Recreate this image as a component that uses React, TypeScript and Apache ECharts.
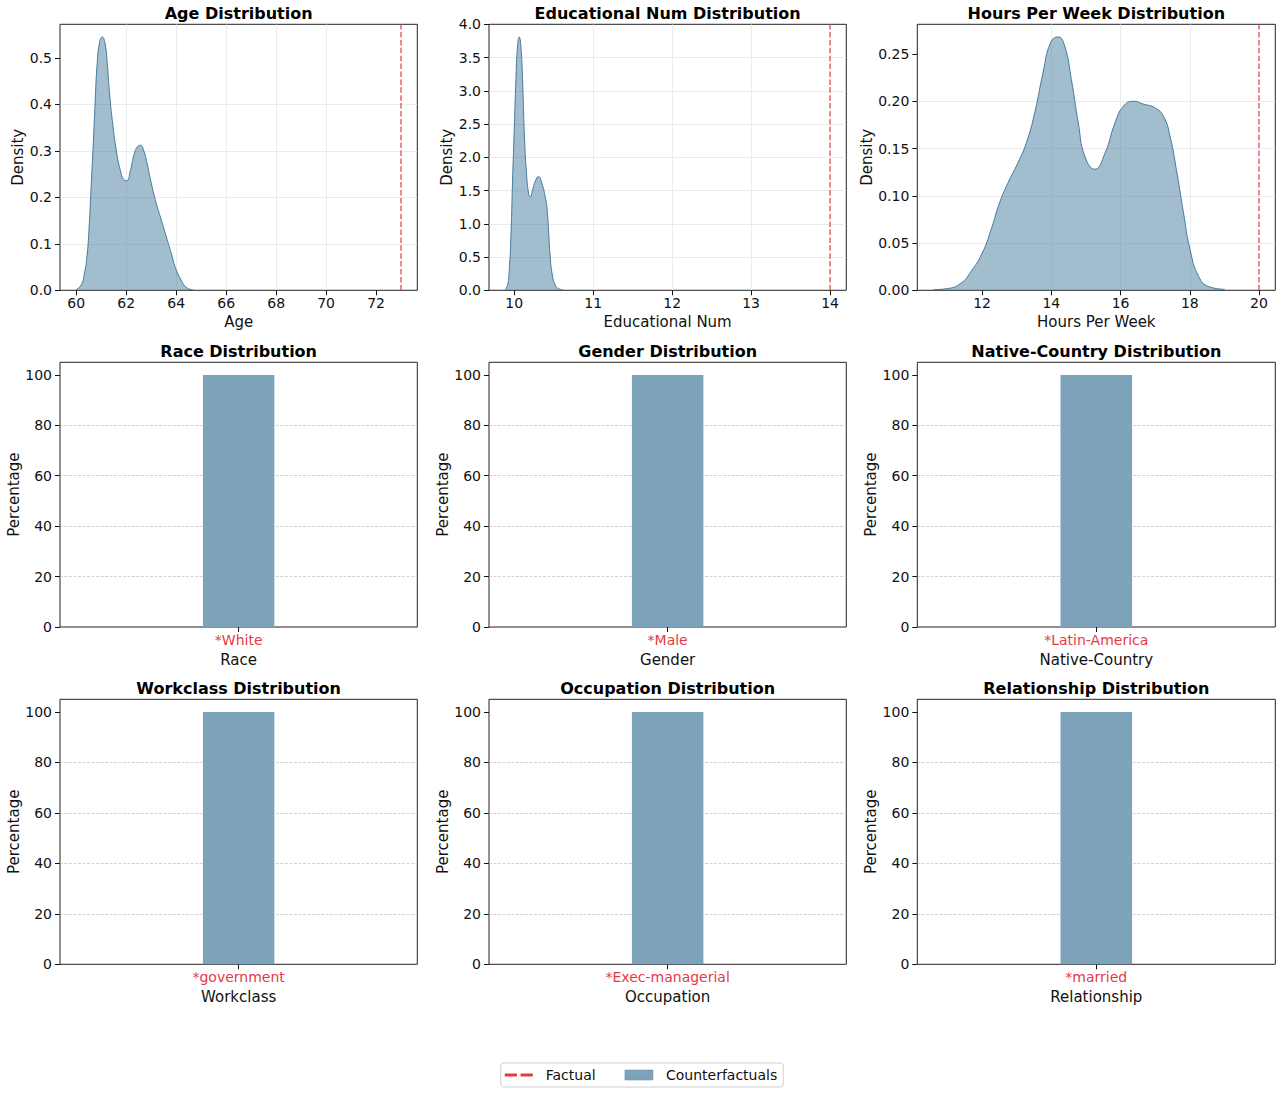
import React, { useEffect, useRef } from "react";
import * as echarts from "echarts";

const FONT = "DejaVu Sans";
const RED = "#e63946";
const BLUE = "#457b9d";
const BAR = "#7da3ba";
const INK = "#111111";

// ---- KDE data ----
const ageX = [60.0, 60.2, 60.33, 60.43, 60.51, 60.59, 60.67, 60.75, 60.83, 60.93, 61.04, 61.15, 61.24, 61.33, 61.47, 61.6, 61.76, 61.91, 62.03, 62.16, 62.33, 62.47, 62.57, 62.69, 62.83, 63.0, 63.2, 63.4, 63.6, 63.8, 64.0, 64.2, 64.4, 64.69];
const ageY = [0.0014, 0.0115, 0.037, 0.073, 0.13, 0.216, 0.302, 0.396, 0.482, 0.532, 0.545, 0.532, 0.489, 0.425, 0.353, 0.302, 0.259, 0.238, 0.236, 0.256, 0.295, 0.31, 0.312, 0.302, 0.274, 0.231, 0.1875, 0.152, 0.116, 0.08, 0.044, 0.022, 0.0065, 0.0007];
const ageFactual = 73;

const eduX = [9.886, 9.916, 9.937, 9.958, 9.979, 10.0, 10.021, 10.042, 10.063, 10.084, 10.105, 10.126, 10.152, 10.181, 10.202, 10.232, 10.266, 10.308, 10.35, 10.392, 10.413, 10.434, 10.455, 10.485, 10.518, 10.56, 10.624];
const eduY = [0.01, 0.08, 0.307, 0.81, 1.66, 2.42, 3.17, 3.67, 3.81, 3.67, 3.17, 2.42, 1.81, 1.46, 1.4, 1.51, 1.64, 1.71, 1.61, 1.41, 1.26, 0.91, 0.51, 0.21, 0.08, 0.025, 0.005];
const eduFactual = 14;

const hoursX = [10.6, 11.0, 11.39, 11.68, 12.0, 12.26, 12.5, 12.74, 13.03, 13.28, 13.52, 13.76, 13.98, 14.2, 14.39, 14.58, 14.78, 14.97, 15.26, 15.55, 15.84, 16.08, 16.37, 16.66, 17.0, 17.24, 17.43, 17.63, 17.82, 18.01, 18.26, 18.55, 19.01];
const hoursY = [0.0007, 0.0018, 0.0074, 0.0198, 0.039, 0.064, 0.092, 0.113, 0.1345, 0.156, 0.1875, 0.23, 0.262, 0.268, 0.258, 0.223, 0.177, 0.1416, 0.128, 0.145, 0.177, 0.1946, 0.2, 0.197, 0.193, 0.184, 0.163, 0.124, 0.0816, 0.0427, 0.0145, 0.0039, 0.001];
const hoursFactual = 20;

// ---- tick labels ----
const ageXTicks = [60, 62, 64, 66, 68, 70, 72];
const ageYTicks = [0, 0.1, 0.2, 0.3, 0.4, 0.5];
const eduXTicks = [10, 11, 12, 13, 14];
const eduYTicks = [0, 0.5, 1.0, 1.5, 2.0, 2.5, 3.0, 3.5, 4.0];
const hoursXTicks = [12, 14, 16, 18, 20];
const hoursYTicks = [0, 0.05, 0.1, 0.15, 0.2, 0.25];
const pctTicks = [0, 20, 40, 60, 80, 100];

// ---- categorical data ----
const raceCats = ["White"];
const raceVals = [100];
const raceFactual = "White";
const genderCats = ["Male"];
const genderVals = [100];
const genderFactual = "Male";
const countryCats = ["Latin-America"];
const countryVals = [100];
const countryFactual = "Latin-America";
const workclassCats = ["government"];
const workclassVals = [100];
const workclassFactual = "government";
const occupationCats = ["Exec-managerial"];
const occupationVals = [100];
const occupationFactual = "Exec-managerial";
const relationshipCats = ["married"];
const relationshipVals = [100];
const relationshipFactual = "married";

// ---- layout ----
const COL_LEFT = [60, 489, 917.3];
const COL_W = [357.3, 357.3, 358];
const ROW_TOP = [24.3, 362.3, 699.3];
const ROW_H = [266, 264.7, 265];
const TITLE_Y = [13.5, 351.8, 688.8];

type Kde = {
  title: string; xName: string; xs: number[]; ys: number[]; factual: number;
  xTicks: number[]; yTicks: number[]; xStep: number; yStep: number; yDec: number; yNameGap: number;
};
type Cat = { title: string; xName: string; cats: string[]; vals: number[]; factual: string };

const kdePanels: Kde[] = [
  { title: "Age Distribution", xName: "Age", xs: ageX, ys: ageY, factual: ageFactual, xTicks: ageXTicks, yTicks: ageYTicks, xStep: 2, yStep: 0.1, yDec: 1, yNameGap: 31 },
  { title: "Educational Num Distribution", xName: "Educational Num", xs: eduX, ys: eduY, factual: eduFactual, xTicks: eduXTicks, yTicks: eduYTicks, xStep: 1, yStep: 0.5, yDec: 1, yNameGap: 32 },
  { title: "Hours Per Week Distribution", xName: "Hours Per Week", xs: hoursX, ys: hoursY, factual: hoursFactual, xTicks: hoursXTicks, yTicks: hoursYTicks, xStep: 2, yStep: 0.05, yDec: 2, yNameGap: 42 },
];
const catPanels: Cat[] = [
  { title: "Race Distribution", xName: "Race", cats: raceCats, vals: raceVals, factual: raceFactual },
  { title: "Gender Distribution", xName: "Gender", cats: genderCats, vals: genderVals, factual: genderFactual },
  { title: "Native-Country Distribution", xName: "Native-Country", cats: countryCats, vals: countryVals, factual: countryFactual },
  { title: "Workclass Distribution", xName: "Workclass", cats: workclassCats, vals: workclassVals, factual: workclassFactual },
  { title: "Occupation Distribution", xName: "Occupation", cats: occupationCats, vals: occupationVals, factual: occupationFactual },
  { title: "Relationship Distribution", xName: "Relationship", cats: relationshipCats, vals: relationshipVals, factual: relationshipFactual },
];

function buildOption() {
  const grids: any[] = [];
  const xAxes: any[] = [];
  const yAxes: any[] = [];
  const series: any[] = [];
  const graphics: any[] = [];

  const tickStyle = { show: true, length: 5, lineStyle: { color: INK, width: 1 } };
  const labelBase = { fontSize: 14, fontFamily: FONT, color: INK };
  const nameStyle = { fontSize: 15, fontFamily: FONT, color: INK };

  const addGrid = (idx: number, title: string) => {
    const r = Math.floor(idx / 3);
    const c = idx % 3;
    grids.push({
      left: COL_LEFT[c], top: ROW_TOP[r], width: COL_W[c], height: ROW_H[r],
      show: true, borderColor: "#222222", borderWidth: 1, backgroundColor: "transparent",
      containLabel: false, outerBoundsMode: "none",
    });
    graphics.push({
      type: "text", x: COL_LEFT[c] + COL_W[c] / 2, y: TITLE_Y[r], silent: true,
      style: { text: title, fontSize: 16, fontWeight: "bold", fontFamily: FONT, fill: "#000", align: "center", verticalAlign: "middle" },
    });
  };

  kdePanels.forEach((p, i) => {
    addGrid(i, p.title);
    const lo = Math.min(Math.min(...p.xs), p.factual);
    const hi = Math.max(Math.max(...p.xs), p.factual);
    const pad = (hi - lo) * 0.05;
    const yMax = Math.max(...p.ys) * 1.05;
    xAxes.push({
      type: "value", gridIndex: i, min: lo - pad, max: hi + pad,
      minInterval: p.xStep, maxInterval: p.xStep,
      axisLine: { show: false },
      axisTick: { ...tickStyle, customValues: p.xTicks },
      axisLabel: { ...labelBase, margin: 6, customValues: p.xTicks, formatter: (v: number) => String(Math.round(v)) },
      splitLine: { show: true, showMinLine: false, showMaxLine: false, lineStyle: { color: "#e6e6e6", width: 0.8 } },
      name: p.xName, nameLocation: "middle", nameGap: 24, nameTextStyle: nameStyle,
    });
    yAxes.push({
      type: "value", gridIndex: i, min: 0, max: yMax,
      minInterval: p.yStep, maxInterval: p.yStep,
      axisLine: { show: false },
      axisTick: { ...tickStyle, customValues: p.yTicks },
      axisLabel: { ...labelBase, margin: 8, customValues: p.yTicks, formatter: (v: number) => v.toFixed(p.yDec) },
      splitLine: { show: true, showMinLine: false, showMaxLine: false, lineStyle: { color: "#e6e6e6", width: 0.8 } },
      name: "Density", nameLocation: "middle", nameGap: p.yNameGap, nameTextStyle: nameStyle,
    });
    series.push({
      type: "line", name: "Density", xAxisIndex: i, yAxisIndex: i, silent: true,
      data: p.xs.map((x, k) => [x, p.ys[k]]),
      smooth: 0.5, symbol: "none", showSymbol: false,
      lineStyle: { color: BLUE, width: 1 },
      areaStyle: { color: BLUE, opacity: 0.5 },
    });
    series.push({
      type: "line", name: "Factual", xAxisIndex: i, yAxisIndex: i, silent: true,
      data: [], symbol: "none", showSymbol: false,
      lineStyle: { color: RED, type: "dashed", width: 1.5 },
      itemStyle: { color: RED },
      markLine: {
        silent: true, symbol: ["none", "none"], label: { show: false },
        lineStyle: { color: RED, opacity: 0.8, type: [5.5, 2.4], width: 1.5 },
        data: [{ xAxis: p.factual }],
      },
    });
  });

  catPanels.forEach((p, j) => {
    const i = j + 3;
    addGrid(i, p.title);
    const yMax = Math.max(...p.vals) * 1.05;
    xAxes.push({
      type: "category", gridIndex: i, data: p.cats,
      axisLine: { show: false },
      axisTick: { ...tickStyle, alignWithLabel: true },
      axisLabel: {
        ...labelBase, margin: 6,
        formatter: (v: string) => (v === p.factual ? "*" + v : v),
        color: (v: string) => (v === p.factual ? RED : INK),
      },
      splitLine: { show: false },
      name: p.xName, nameLocation: "middle", nameGap: 25.5, nameTextStyle: nameStyle,
    });
    yAxes.push({
      type: "value", gridIndex: i, min: 0, max: yMax,
      minInterval: 20, maxInterval: 20,
      axisLine: { show: false },
      axisTick: { ...tickStyle, customValues: pctTicks },
      axisLabel: { ...labelBase, margin: 8, customValues: pctTicks, formatter: (v: number) => String(Math.round(v)) },
      splitLine: { show: true, showMinLine: false, showMaxLine: false, lineStyle: { color: "#c8c8c8", type: [3, 1.5], width: 0.8 } },
      name: "Percentage", nameLocation: "middle", nameGap: 36.5, nameTextStyle: nameStyle,
    });
    series.push({
      type: "bar", name: "Counterfactuals", xAxisIndex: i, yAxisIndex: i, silent: true,
      data: p.vals, barWidth: "20%", itemStyle: { color: BAR },
    });
  });

  return {
    animation: false,
    backgroundColor: "#ffffff",
    textStyle: { fontFamily: FONT },
    grid: grids,
    xAxis: xAxes,
    yAxis: yAxes,
    series,
    graphic: graphics,
    legend: {
      data: [
        { name: "Factual", icon: "path://M0,0h12v3h-12z M15.5,0h12v3h-12z", itemStyle: { color: RED, borderWidth: 0 } },
        { name: "Counterfactuals", icon: "rect", itemStyle: { color: BAR, borderColor: "#6f95ab", borderWidth: 0.6 } },
      ],
      left: "center", top: 1063, orient: "horizontal",
      itemWidth: 28, itemHeight: 10, itemGap: 29, padding: [5, 6, 5, 4],
      symbolKeepAspect: true,
      borderColor: "#d0d0d0", borderWidth: 1, borderRadius: 3, backgroundColor: "#ffffff",
      selectedMode: false,
      textStyle: { fontSize: 14, fontFamily: FONT, color: INK, padding: [0, 0, 0, 8] },
    },
  };
}

export default function App() {
  const ref = useRef<HTMLDivElement | null>(null);
  useEffect(() => {
    if (!ref.current) return;
    const chart = echarts.init(ref.current, undefined, { renderer: "svg" });
    chart.setOption(buildOption() as any);
    return () => chart.dispose();
  }, []);
  return <div ref={ref} style={{ position: "absolute", left: 0, top: 0, width: 1282, height: 1094, background: "#fff" }} />;
}
